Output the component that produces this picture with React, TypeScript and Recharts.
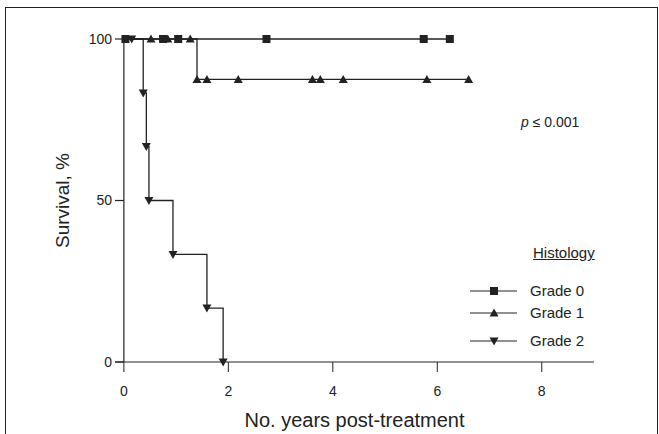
import { LineChart, Line, XAxis, YAxis, ReferenceLine, Legend } from "recharts";

const INK = "#222222";
const FONT = "'Liberation Sans', Arial, sans-serif";

const xTicks = [0, 2, 4, 6, 8];
const yTicks = [0, 50, 100];

// Kaplan-Meier points: time (years), survival (%), marker drawn or not
const grade0Years = [0, 0.03, 0.75, 1.04, 2.73, 5.74, 6.24];
const grade0Survival = [100, 100, 100, 100, 100, 100, 100];
const grade0Marked = [false, true, true, true, true, true, true];

const grade1Years = [0, 0.52, 0.84, 1.27, 1.4, 1.59, 2.19, 3.61, 3.76, 4.2, 5.8, 6.6];
const grade1Survival = [100, 100, 100, 100, 87.5, 87.5, 87.5, 87.5, 87.5, 87.5, 87.5, 87.5];
const grade1Marked = [false, true, true, true, true, true, true, true, true, true, true, true];

const grade2Years = [0, 0.15, 0.37, 0.43, 0.48, 0.94, 1.59, 1.9];
const grade2Survival = [100, 100, 83.3, 66.7, 50, 33.3, 16.7, 0];
const grade2Marked = [false, true, true, true, true, true, true, true];

const toRows = (years: number[], surv: number[], marked: boolean[]) =>
  years.map((t, i) => ({ t, surv: surv[i], marked: marked[i] }));

const series = [
  { name: "Grade 0", shape: "square", data: toRows(grade0Years, grade0Survival, grade0Marked) },
  { name: "Grade 1", shape: "up", data: toRows(grade1Years, grade1Survival, grade1Marked) },
  { name: "Grade 2", shape: "down", data: toRows(grade2Years, grade2Survival, grade2Marked) },
];

function Marker({ shape, cx, cy }: { shape: string; cx: number; cy: number }) {
  if (shape === "square") {
    return <rect x={cx - 4} y={cy - 4} width={8} height={8} fill={INK} />;
  }
  if (shape === "up") {
    return <path d={`M${cx},${cy - 4.5}L${cx + 4.5},${cy + 3.5}L${cx - 4.5},${cy + 3.5}Z`} fill={INK} />;
  }
  return <path d={`M${cx},${cy + 4.5}L${cx + 4.5},${cy - 3.5}L${cx - 4.5},${cy - 3.5}Z`} fill={INK} />;
}

const dotFor = (shape: string) => (props: any) => {
  const { cx, cy, payload, index } = props;
  if (!payload || !payload.marked) return <g key={index} />;
  return (
    <g key={index}>
      <Marker shape={shape} cx={cx} cy={cy} />
    </g>
  );
};

const rowGaps = [19, 2, 8];

const renderLegend = () => (
  <div style={{ fontFamily: FONT, fontSize: 15, color: INK, lineHeight: "18px" }}>
    <div style={{ marginLeft: 63, textDecoration: "underline" }}>Histology</div>
    {series.map((s, i) => (
      <div key={s.name} style={{ display: "flex", alignItems: "center", height: 20, marginTop: rowGaps[i] }}>
        <svg width={60} height={20} style={{ display: "block" }}>
          <line x1={0} x2={47} y1={10} y2={10} stroke={INK} strokeWidth={1.2} />
          <Marker shape={s.shape} cx={24} cy={10} />
        </svg>
        <span>{s.name}</span>
      </div>
    ))}
  </div>
);

export default function App() {
  return (
    <div style={{ position: "absolute", left: 0, top: 0, width: 659, height: 434, overflow: "hidden", fontFamily: FONT, background: "#fff" }}>
      <div
        style={{
          position: "absolute",
          left: 5,
          top: 7,
          width: 651,
          height: 440,
          borderLeft: `1px solid ${INK}`,
          borderTop: `1px solid ${INK}`,
          borderRight: `1px solid ${INK}`,
        }}
      />
      <LineChart width={659} height={434} margin={{ top: 39, right: 65, bottom: 0, left: 0 }}>
        <XAxis
          type="number"
          dataKey="t"
          domain={[-0.17, 9]}
          ticks={xTicks}
          allowDecimals={false}
          height={72}
          stroke={INK}
          tickSize={10}
          tickMargin={14}
          tick={{ fill: INK, fontSize: 14 }}
          label={{ value: "No. years post-treatment", position: "insideBottom", offset: 7, fill: INK, fontSize: 20 }}
        />
        <YAxis
          type="number"
          dataKey="surv"
          domain={[0, 100]}
          ticks={yTicks}
          width={115}
          axisLine={false}
          tickLine={false}
          tickSize={0}
          tickMargin={3}
          tick={{ fill: INK, fontSize: 14 }}
          label={{ value: "Survival, %", angle: -90, position: "insideLeft", offset: 62, fill: INK, fontSize: 19, style: { textAnchor: "middle" } }}
        />
        <ReferenceLine segment={[{ x: 0, y: 0 }, { x: 0, y: 100 }]} stroke={INK} strokeWidth={1.2} />
        {yTicks.map((v) => (
          <ReferenceLine key={v} segment={[{ x: -0.17, y: v }, { x: 0, y: v }]} stroke={INK} strokeWidth={1.2} />
        ))}
        {series.map((s) => (
          <Line
            key={s.name}
            name={s.name}
            data={s.data}
            dataKey="surv"
            type="stepAfter"
            stroke={INK}
            strokeWidth={1.3}
            dot={dotFor(s.shape)}
            activeDot={false}
            isAnimationActive={false}
          />
        ))}
        <Legend
          layout="horizontal"
          verticalAlign="middle"
          align="center"
          content={renderLegend}
          wrapperStyle={{ position: "absolute", left: 470, top: 244, width: 170 }}
        />
      </LineChart>
      <div style={{ position: "absolute", left: 521, top: 115, fontSize: 14, lineHeight: "14px", color: INK }}>
        <i>p</i> ≤ 0.001
      </div>
    </div>
  );
}
